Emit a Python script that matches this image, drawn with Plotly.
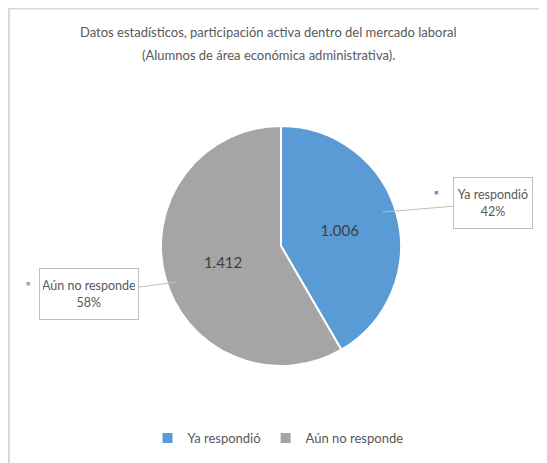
import plotly.graph_objects as go

W, H = 547, 463
labels = ["Ya respondió", "Aún no responde"]
values = [1006, 1412]
percents = ["42%", "58%"]
colors = ["#5B9BD5", "#A5A5A5"]
title_lines = ["Datos estadísticos, participación activa dentro del mercado laboral",
               "(Alumnos de área económica administrativa)."]

FONT = "Lato, Open Sans, sans-serif"
TXT = "#595959"
OFF = 8  # page body margin: convert screen px to figure paper fraction

def px(x):
    return (x - OFF) / W

def py(y):
    return 1 - (y - OFF) / H

cx, cy, d = 281, 246, 240
fig = go.Figure(go.Pie(
    labels=labels, values=values, sort=False, direction="clockwise", rotation=0,
    marker=dict(colors=colors, line=dict(color="white", width=2)),
    texttemplate="%{value:,}", textposition="inside", insidetextorientation="horizontal",
    textfont=dict(family=FONT, size=15, color="#404040"),
    domain=dict(x=[px(cx - d / 2), px(cx + d / 2)], y=[py(cy + d / 2), py(cy - d / 2)]),
    hoverinfo="label+value+percent",
))

ann = []
for i, yy in enumerate([32, 55]):
    ann.append(dict(x=px(268), y=py(yy), xref="paper", yref="paper", showarrow=False,
                    xanchor="center", yanchor="middle", text=title_lines[i],
                    font=dict(family=FONT, size=13, color=TXT)))

callouts = [
    # idx, tip x, tip y, box cx, box cy, box w, marker x, marker y
    (0, 383, 212, 493, 203, 72, 440, 192),
    (1, 176, 282, 89, 294, 92, 24, 283),
]
for i, tx, ty, bx, by, bw, mx, my in callouts:
    ann.append(dict(
        x=px(tx), y=py(ty), xref="paper", yref="paper", axref="pixel", ayref="pixel",
        ax=bx - tx, ay=by - ty, showarrow=True, arrowhead=0, arrowwidth=1,
        arrowcolor="#BFBFBF", standoff=0,
        text=f"{labels[i]}<br>{percents[i]}", align="center",
        width=bw, height=44, valign="middle",
        font=dict(family=FONT, size=12.5, color=TXT),
        bordercolor="#BFBFBF", borderwidth=1, borderpad=3, bgcolor="white",
    ))
    ann.append(dict(x=px(mx), y=py(my), xref="paper", yref="paper", showarrow=False,
                    text="■", font=dict(size=7, color=colors[i])))

fig.update_layout(
    width=W, height=H,
    margin=dict(l=0, r=0, t=0, b=0, pad=0, autoexpand=False),
    paper_bgcolor="white",
    separators=",.",
    showlegend=True,
    legend=dict(orientation="h", x=px(278), xanchor="center", y=py(438), yanchor="middle",
                font=dict(family=FONT, size=13, color=TXT), itemwidth=30,
                traceorder="normal"),
    annotations=ann,
    shapes=[
        dict(type="line", xref="paper", yref="paper", x0=px(8), x1=1, y0=1, y1=1,
             line=dict(color="#D9D9D9", width=3)),
        dict(type="line", xref="paper", yref="paper", x0=px(9), x1=px(9), y0=1, y1=0,
             line=dict(color="#D9D9D9", width=2)),
    ],
)

fig.write_html("out.html")
